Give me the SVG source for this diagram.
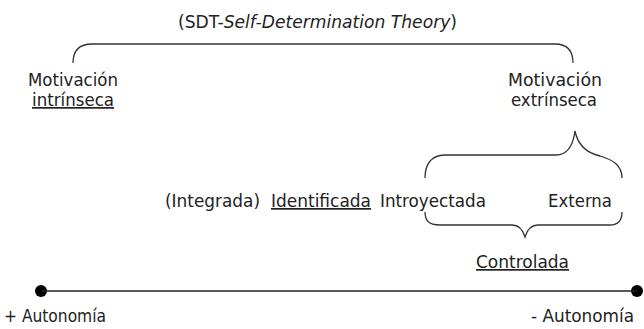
<svg xmlns="http://www.w3.org/2000/svg" width="644" height="329" viewBox="0 0 644 329">
<style>
text{font-family:"DejaVu Sans Condensed","DejaVu Sans","Liberation Sans",sans-serif;font-stretch:condensed;font-size:17px;fill:#222}
.u{text-decoration:underline}
.brace{fill:none;stroke:#333;stroke-width:1.3}
.axis{stroke:#222;stroke-width:1.3}
.dot{fill:#000}
</style>
<rect width="644" height="329" fill="#fff"/>
<g id="title"><text x="178" y="28" textLength="279" lengthAdjust="spacingAndGlyphs">(SDT-<tspan font-style="italic">Self-Determination Theory</tspan>)</text></g>
<g id="intrinseca">
<text x="28" y="86" textLength="90" lengthAdjust="spacingAndGlyphs">Motivación</text>
<text x="32" y="106" textLength="82" lengthAdjust="spacingAndGlyphs" class="u">intrínseca</text>
</g>
<g id="extrinseca">
<text x="508" y="86" textLength="94" lengthAdjust="spacingAndGlyphs">Motivación</text>
<text x="511" y="106" textLength="86" lengthAdjust="spacingAndGlyphs">extrínseca</text>
</g>
<g id="integrada"><text x="165" y="207" textLength="95" lengthAdjust="spacingAndGlyphs">(Integrada)</text></g>
<g id="identificada"><text x="271" y="207" textLength="100" lengthAdjust="spacingAndGlyphs" class="u">Identificada</text></g>
<g id="introyectada"><text x="380" y="207" textLength="106" lengthAdjust="spacingAndGlyphs">Introyectada</text></g>
<g id="externa"><text x="548" y="207" textLength="64" lengthAdjust="spacingAndGlyphs">Externa</text></g>
<g id="controlada"><text x="476" y="268" textLength="93" lengthAdjust="spacingAndGlyphs" class="u">Controlada</text></g>
<g id="mas-autonomia">
<circle class="dot" cx="41" cy="291" r="6"/>
<text x="4" y="322" textLength="102" lengthAdjust="spacingAndGlyphs">+ Autonomía</text>
</g>
<g id="menos-autonomia">
<circle class="dot" cx="637" cy="291" r="6"/>
<text x="531" y="322" textLength="103" lengthAdjust="spacingAndGlyphs">- Autonomía</text>
</g>
<g id="connectors">
<path class="brace" d="M73,63 C73,52 78,44 92,44 H555 C568,44 573,52 573,63"/>
<path class="brace" d="M425,178 C425,166 430,155 445,155 H556 C567,155 573,146 575,131 C578,146 587,153 600,156 C614,160 622,166 622,178"/>
<path class="brace" d="M425,212 C425,220 428,225 440,225 H512 C519,225 523,230 525,237 C527,230 531,225 538,225 H610 C618,225 622,220 622,212"/>
<line class="axis" x1="41" y1="291" x2="637" y2="291"/>
</g>
</svg>
